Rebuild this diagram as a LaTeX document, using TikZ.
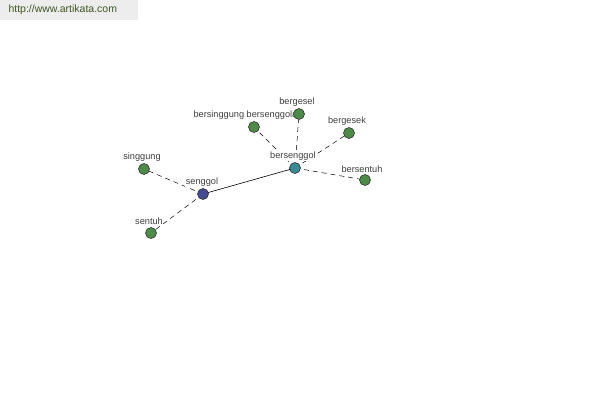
\documentclass[tikz,border=0pt]{standalone}
\usepackage{fontspec}
\setmainfont{Liberation Sans}
\begin{document}
\begin{tikzpicture}[x=1pt,y=-1pt,
  vert/.style={circle,draw=black!80,line width=0.6pt,minimum size=11pt,inner sep=0pt},
  leaf/.style={vert,fill={rgb,255:red,78;green,138;blue,72}},
  lbl/.style={font=\fontsize{9.2}{10}\selectfont,text=black!75,fill=white,inner sep=0.5pt},
  dashedge/.style={dash pattern=on 5pt off 4pt,line width=0.5pt},
  solidedge/.style={line width=0.6pt}]
\useasboundingbox (0,0) rectangle (600,400);
\fill[black!7] (0,0) rectangle (138,20);
\node[anchor=west,font=\fontsize{10.5}{11}\selectfont,text={rgb,255:red,65;green,85;blue,35}] (url) at (5,10) {http://www.artikata.com};
% coordinates
\coordinate (cS) at (203,194);
\coordinate (cB) at (295,168);
\coordinate (cSi) at (144,169);
\coordinate (cSe) at (151,233);
\coordinate (cBB) at (254,127);
\coordinate (cBg) at (299,114);
\coordinate (cBk) at (349,133);
\coordinate (cBt) at (365,180);
% edges
\draw[solidedge] (cS) -- (cB);
\draw[dashedge] (cS) -- (cSi);
\draw[dashedge] (cS) -- (cSe);
\draw[dashedge] (cB) -- (cBB);
\draw[dashedge] (cB) -- (cBg);
\draw[dashedge] (cB) -- (cBk);
\draw[dashedge] (cB) -- (cBt);
% labels
\node[lbl] (lSi) at (142,157) {singgung};
\node[lbl] (lSe) at (149,221) {sentuh};
\node[lbl] (lBB) at (248,115) {bersinggung bersenggolan};
\node[lbl] (lBg) at (297,102) {bergesel};
\node[lbl] (lBk) at (347,121) {bergesek};
\node[lbl] (lBt) at (362,169) {bersentuh};
\node[lbl] (lS) at (202,182) {senggol};
\node[lbl] (lB) at (293,156) {bersenggol};
% vertices
\node[vert,fill={rgb,255:red,70;green,75;blue,150}] (S) at (cS) {};
\node[vert,fill={rgb,255:red,55;green,140;blue,150}] (B) at (cB) {};
\node[leaf] (Si) at (cSi) {};
\node[leaf] (Se) at (cSe) {};
\node[leaf] (BB) at (cBB) {};
\node[leaf] (Bg) at (cBg) {};
\node[leaf] (Bk) at (cBk) {};
\node[leaf] (Bt) at (cBt) {};
\end{tikzpicture}
\end{document}
